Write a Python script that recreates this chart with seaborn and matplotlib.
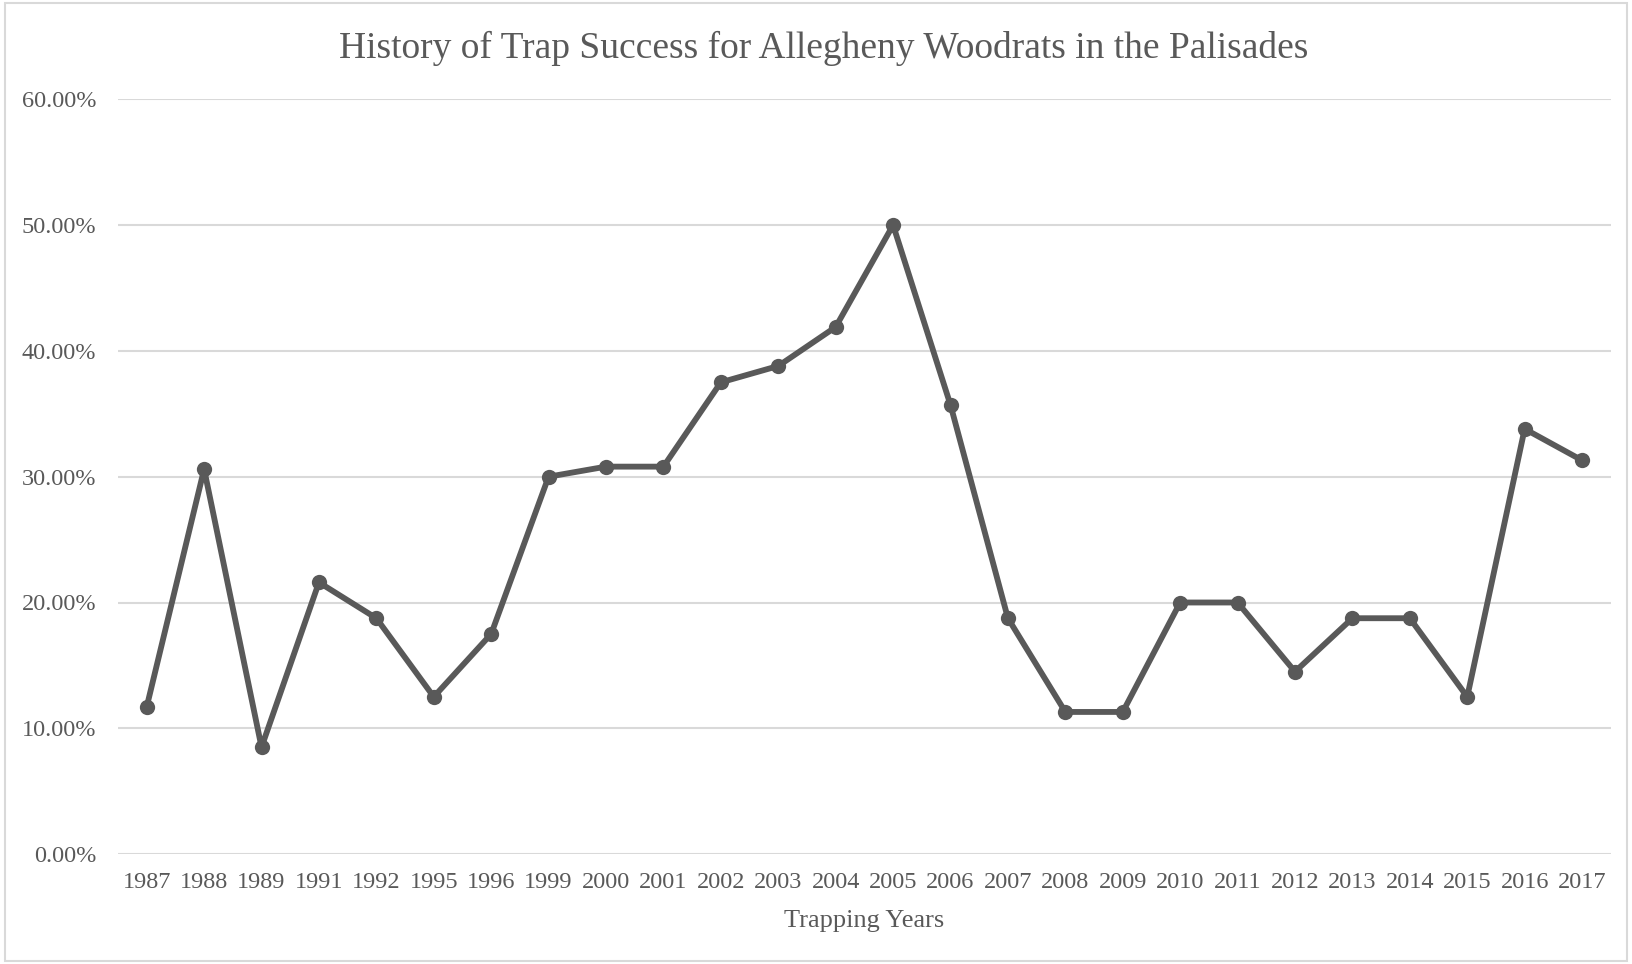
import matplotlib
matplotlib.use("Agg")
import matplotlib.pyplot as plt
from matplotlib.patches import Rectangle
from matplotlib.ticker import PercentFormatter
import seaborn as sns
import pandas as pd

# Trapping years and trap success (%)
years = ["1987", "1988", "1989", "1991", "1992", "1995", "1996", "1999", "2000",
         "2001", "2002", "2003", "2004", "2005", "2006", "2007", "2008", "2009",
         "2010", "2011", "2012", "2013", "2014", "2015", "2016", "2017"]
success = [11.7, 30.6, 8.5, 21.6, 18.75, 12.5, 17.5, 30.0, 30.8,
           30.8, 37.5, 38.8, 41.9, 50.0, 35.7, 18.75, 11.3, 11.3,
           20.0, 20.0, 14.5, 18.75, 18.75, 12.5, 33.8, 31.3]

df = pd.DataFrame({"year": years, "success": success})

sns.set_theme(style="white")
plt.rcParams['font.family'] = ['Liberation Serif', 'DejaVu Serif']
text_col = "#595959"
line_col = "#595959"
grid_col = "#d9d9d9"

fig = plt.figure(figsize=(16.32, 9.64), dpi=100)
ax = fig.add_axes([0.0723, 0.114, 0.9147, 0.783])

sns.lineplot(data=df, x="year", y="success", sort=False, ax=ax,
             color=line_col, linewidth=4.2, marker="o", markersize=11,
             markeredgewidth=0)

ax.set_xlim(-0.5, len(years) - 0.5)
ax.set_ylim(0, 60)
ax.set_yticks(range(0, 61, 10))
ax.yaxis.set_major_formatter(PercentFormatter(decimals=2))
ax.grid(axis="y", color=grid_col, linewidth=1.5)
ax.set_axisbelow(True)
for s in ax.spines.values():
    s.set_visible(False)
ax.tick_params(axis="both", length=0, labelsize=17.5, colors=text_col)
ax.tick_params(axis="x", pad=13)
ax.tick_params(axis="y", pad=15.5)

ax.set_xlabel("Trapping Years", fontsize=19, color=text_col, labelpad=12)
ax.set_ylabel("")
fig.suptitle("History of Trap Success for Allegheny Woodrats in the Palisades",
             fontsize=27, color=text_col, y=0.968, x=0.505)

fig.patches.append(Rectangle((0.003, 0.003), 0.994, 0.994, transform=fig.transFigure,
                             fill=False, edgecolor=grid_col, linewidth=1.5))

fig.savefig("out.png", dpi=100)
